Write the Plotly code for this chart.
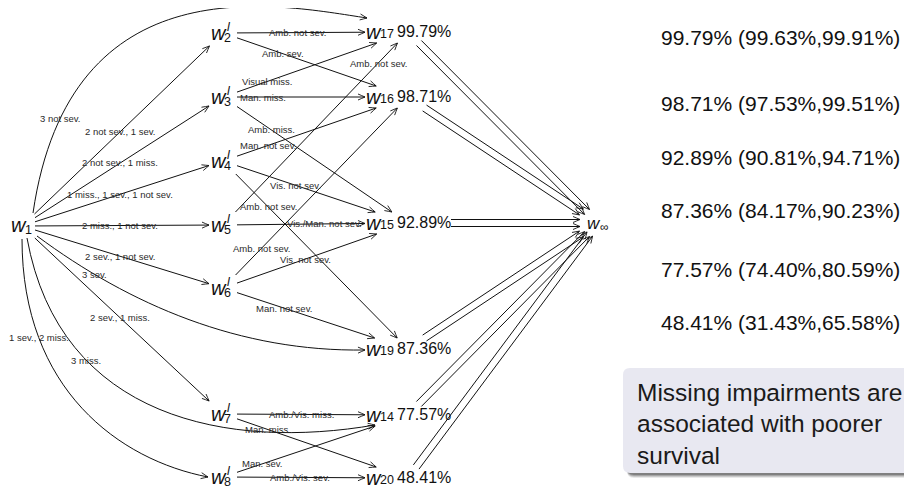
import math
import plotly.graph_objects as go

# ---------------- data ----------------
entry_node = "w1"
partial_nodes = ["w2l", "w3l", "w4l", "w5l", "w6l", "w7l", "w8l"]
partial_index = ["2", "3", "4", "5", "6", "7", "8"]
final_nodes = ["w17", "w16", "w15", "w19", "w14", "w20"]
final_index = ["17", "16", "15", "19", "14", "20"]
final_survival = ["99.79%", "98.71%", "92.89%", "87.36%", "77.57%", "48.41%"]
ci_lower = ["99.63%", "97.53%", "90.81%", "84.17%", "74.40%", "31.43%"]
ci_upper = ["99.91%", "99.51%", "94.71%", "90.23%", "80.59%", "65.58%"]
absorbing_node = "winf"
death_edges_per_state = 2

entry_targets = ["w17", "w2l", "w3l", "w4l", "w5l", "w6l", "w19", "w7l", "w14", "w8l"]
entry_labels = ["3 not sev.", "2 not sev., 1 sev.", "2 not sev., 1 miss.",
                "1 miss., 1 sev., 1 not sev.", "2 miss., 1 not sev.",
                "2 sev., 1 not sev.", "3 sev.", "2 sev., 1 miss.", "3 miss.",
                "1 sev., 2 miss."]

step_sources = ["w2l", "w2l", "w3l", "w3l", "w3l", "w4l", "w4l", "w4l", "w5l",
                "w5l", "w6l", "w6l", "w6l", "w7l", "w7l", "w8l", "w8l"]
step_targets = ["w17", "w16", "w17", "w16", "w15", "w16", "w15", "w19", "w17",
                "w15", "w16", "w15", "w19", "w14", "w20", "w14", "w20"]
step_labels = ["Amb. not sev.", "Amb. sev.", "Visual miss.", "Man. miss.",
               "Amb. miss.", "Man. not sev.", "Vis. not sev.", "Amb. not sev.",
               "Amb. not sev.", "Vis./Man. not sev.", "Amb. not sev.",
               "Vis. not sev.", "Man. not sev.", "Amb./Vis. miss.", "Man. miss.",
               "Man. sev.", "Amb./Vis. sev."]

summary_lines = ["Missing impairments are", "associated with poorer", "survival"]

# ---------------- layout / geometry ----------------
FONT = "Liberation Sans, Arial, Helvetica, sans-serif"
INK = "#111111"
LBL = "#2a2a2a"
PAGE_OFFSET = 8   # default body margin of the html page

CENTER = {"w1": (22, 226),
          "w2l": (223, 33), "w3l": (223, 97), "w4l": (223, 161), "w5l": (223, 225),
          "w6l": (223, 288), "w7l": (223, 414), "w8l": (223, 477),
          "w17": (408, 32), "w16": (408, 97), "w15": (408, 223), "w19": (408, 349),
          "w14": (408, 415), "w20": (408, 478), "winf": (598, 223)}


def half(n):
    if n == entry_node:
        return (13, 12)
    if n in partial_nodes:
        return (14, 13)
    if n in final_nodes:
        return (43, 11)
    return (18, 11)


# curved entry edges: start/end offsets relative to node centres, controls
ENTRY_CURVES = {
    "w17": dict(s=(11, -13), c1=(70, -40), c2=(280, 5), e=(-41, -14)),
    "w19": dict(s=(15, 10), c1=(130, 305), c2=(240, 352), e=(-43, 1)),
    "w14": dict(s=(5, 12), c1=(60, 420), c2=(230, 450), e=(-33, 10)),
    "w8l": dict(s=(0, 13), c1=(22, 390), c2=(120, 460), e=(-15, 0)),
}
ENTRY_LABEL_T = {"w17": 0.15, "w19": 0.2, "w14": 0.29, "w8l": 0.25}
STRAIGHT_LABEL_T = 0.49
STEP_LABEL_T = [0.47, 0.33, 0.22, 0.2, 0.22, 0.22, 0.42, 0.2, 0.88, 0.68,
                0.16, 0.49, 0.34, 0.5, 0.22, 0.18, 0.49]
PAIR_GAP = 3.5

RIGHT_X = 660
RIGHT_Y = [37, 103.5, 157, 210.5, 269.5, 322.5]

BOX = dict(x0=623, y0=368, x1=940, y1=473, r=7)
BOX_TEXT_X = 636
BOX_TEXT_Y = [392, 423, 455]

shapes = []
annotations = []


def clip(center, hw, toward):
    cx, cy = center
    dx, dy = toward[0] - cx, toward[1] - cy
    ts = []
    if abs(dx) > 1e-9:
        ts.append(hw[0] / abs(dx))
    if abs(dy) > 1e-9:
        ts.append(hw[1] / abs(dy))
    t = min(ts)
    return (cx + dx * t, cy + dy * t)


def add_path(d, width=1.0, color=INK):
    shapes.append(dict(type="path", path=d, xref="x", yref="y",
                       line=dict(color=color, width=width), layer="above"))


def arrow_head(tip, frm, L=7.0, W=3.0):
    dx, dy = tip[0] - frm[0], tip[1] - frm[1]
    n = math.hypot(dx, dy)
    ux, uy = dx / n, dy / n
    px, py = -uy, ux
    bx, by = tip[0] - L * ux, tip[1] - L * uy
    mx, my = tip[0] - 0.45 * L * ux, tip[1] - 0.45 * L * uy
    add_path(f"M{bx + W * px:.2f},{by + W * py:.2f} Q{mx + 0.45 * W * px:.2f},{my + 0.45 * W * py:.2f} "
             f"{tip[0]:.2f},{tip[1]:.2f} Q{mx - 0.45 * W * px:.2f},{my - 0.45 * W * py:.2f} "
             f"{bx - W * px:.2f},{by - W * py:.2f}", width=0.9)


def text(x, y, s, size, italic=False, anchor="center", color=INK):
    annotations.append(dict(x=x, y=y, xref="x", yref="y",
                            text=(f"<i>{s}</i>" if italic else s), showarrow=False,
                            font=dict(family=FONT, size=size, color=color),
                            xanchor=anchor, yanchor="middle", borderpad=0))


def straight(a, b, label=None, t=0.5, offset=0.0):
    ca, cb = CENTER[a], CENTER[b]
    s = clip(ca, half(a), cb)
    e = clip(cb, half(b), ca)
    if offset:
        dx, dy = e[0] - s[0], e[1] - s[1]
        n = math.hypot(dx, dy)
        px, py = -dy / n * offset, dx / n * offset
        s = (s[0] + px, s[1] + py)
        e = (e[0] + px, e[1] + py)
    add_path(f"M{s[0]:.2f},{s[1]:.2f} L{e[0]:.2f},{e[1]:.2f}")
    arrow_head(e, s)
    if label:
        text(s[0] + t * (e[0] - s[0]), s[1] + t * (e[1] - s[1]), label, 9.5, color=LBL)


def bez(p0, p1, p2, p3, t):
    u = 1 - t
    return (u ** 3 * p0[0] + 3 * u * u * t * p1[0] + 3 * u * t * t * p2[0] + t ** 3 * p3[0],
            u ** 3 * p0[1] + 3 * u * u * t * p1[1] + 3 * u * t * t * p2[1] + t ** 3 * p3[1])


def curved(a, b, spec, label, t):
    ca, cb = CENTER[a], CENTER[b]
    p0 = (ca[0] + spec["s"][0], ca[1] + spec["s"][1])
    p3 = (cb[0] + spec["e"][0], cb[1] + spec["e"][1])
    p1, p2 = spec["c1"], spec["c2"]
    add_path(f"M{p0[0]},{p0[1]} C{p1[0]},{p1[1]} {p2[0]},{p2[1]} {p3[0]},{p3[1]}")
    arrow_head(p3, p2)
    lx, ly = bez(p0, p1, p2, p3, t)
    text(lx, ly, label, 9.5, color=LBL)


# entry edges
for tgt, lab in zip(entry_targets, entry_labels):
    if tgt in ENTRY_CURVES:
        curved(entry_node, tgt, ENTRY_CURVES[tgt], lab, ENTRY_LABEL_T[tgt])
    else:
        straight(entry_node, tgt, lab, STRAIGHT_LABEL_T)

# second-step edges
for src, tgt, lab, t in zip(step_sources, step_targets, step_labels, STEP_LABEL_T):
    straight(src, tgt, lab, t)

# death edges (pairs)
for f in final_nodes:
    for k in range(death_edges_per_state):
        off = (k - (death_edges_per_state - 1) / 2) * 2 * PAIR_GAP
        straight(f, absorbing_node, None, offset=off)

# node labels
cx, cy = CENTER[entry_node]
text(cx - 3.5, cy - 1, "w", 20, italic=True)
text(cx + 6, cy + 3.5, "1", 12.5)
for n, idx in zip(partial_nodes, partial_index):
    cx, cy = CENTER[n]
    text(cx - 4, cy, "w", 20, italic=True)
    text(cx + 5.5, cy - 6.5, "l", 12.5, italic=True)
    text(cx + 4.5, cy + 5, idx, 12.5)
for n, idx, pct in zip(final_nodes, final_index, final_survival):
    cx, cy = CENTER[n]
    text(cx - 34, cy, "w", 20, italic=True)
    text(cx - 21.5, cy + 2, idx, 12.5)
    text(cx + 16, cy - 1, pct, 16)
cx, cy = CENTER[absorbing_node]
text(cx - 4, cy, "w", 17, italic=True)
text(cx + 6, cy + 4, "∞", 12)

# right-hand column
for pct, lo, hi, y in zip(final_survival, ci_lower, ci_upper, RIGHT_Y):
    text(RIGHT_X, y, f"{pct} ({lo},{hi})", 21, anchor="left")


# summary box with shadow
def rrect(x0, y0, x1, y1, r):
    return (f"M{x0 + r},{y0} L{x1 - r},{y0} Q{x1},{y0} {x1},{y0 + r} L{x1},{y1 - r} "
            f"Q{x1},{y1} {x1 - r},{y1} L{x0 + r},{y1} Q{x0},{y1} {x0},{y1 - r} "
            f"L{x0},{y0 + r} Q{x0},{y0} {x0 + r},{y0} Z")


for k, op in enumerate([0.10, 0.16, 0.22, 0.30]):
    d = 5 - k
    shapes.append(dict(type="path", xref="x", yref="y", layer="below",
                       path=rrect(BOX["x0"] + 4, BOX["y0"] + 4, BOX["x1"], BOX["y1"] + d, BOX["r"]),
                       fillcolor=f"rgba(40,40,40,{op})", line=dict(width=0)))
shapes.append(dict(type="path", xref="x", yref="y", layer="below",
                   path=rrect(BOX["x0"], BOX["y0"], BOX["x1"], BOX["y1"], BOX["r"]),
                   fillcolor="#e8e8f1", line=dict(width=0)))
for line, y in zip(summary_lines, BOX_TEXT_Y):
    text(BOX_TEXT_X, y, line, 24.5, anchor="left", color="#1a1a1a")

W, H = 912, 488
fig = go.Figure()
fig.add_trace(go.Scatter(x=[PAGE_OFFSET, W + PAGE_OFFSET], y=[PAGE_OFFSET, H + PAGE_OFFSET],
                         mode="markers", marker=dict(opacity=0), hoverinfo="skip",
                         showlegend=False))
fig.update_layout(
    width=W, height=H, margin=dict(l=0, r=0, t=0, b=0),
    paper_bgcolor="white", plot_bgcolor="white",
    xaxis=dict(range=[PAGE_OFFSET, W + PAGE_OFFSET], visible=False, fixedrange=True),
    yaxis=dict(range=[H + PAGE_OFFSET, PAGE_OFFSET], visible=False, fixedrange=True),
    shapes=shapes, annotations=annotations, showlegend=False,
)
fig.write_html("out.html")
